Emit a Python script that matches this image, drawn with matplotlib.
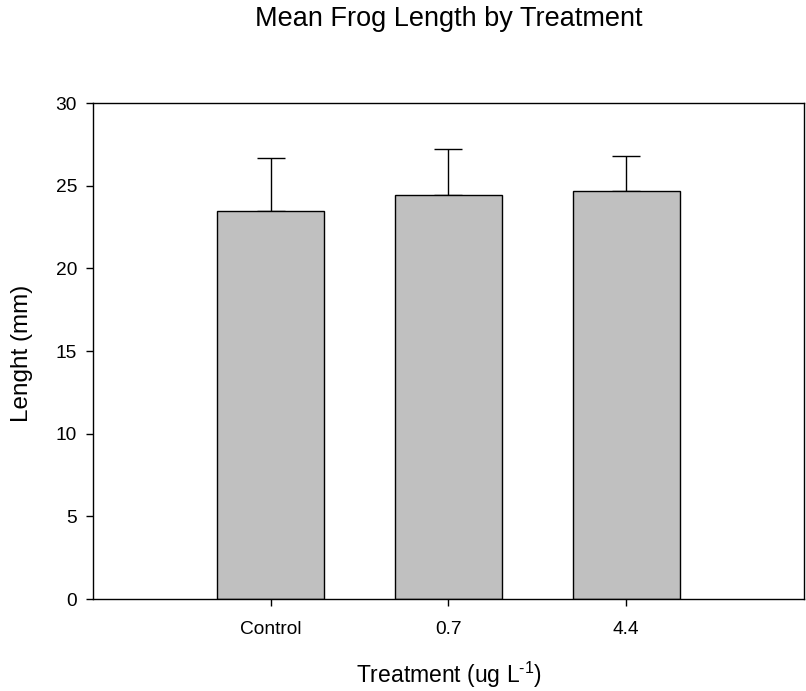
import numpy as np
import matplotlib
matplotlib.use('Agg')
from matplotlib import pyplot as plt

plt.rcParams['font.family'] = ['Liberation Sans', 'DejaVu Sans']
plt.rcParams['mathtext.default'] = 'regular'

treatments = ['Control', '0.7', '4.4']
mean_length = [23.45, 24.45, 24.7]
length_err = [3.25, 2.75, 2.1]

fig = plt.figure(figsize=(8.06, 6.91), dpi=100)
ax = fig.add_axes([0.1154, 0.1331, 0.8821, 0.7178])

x = np.arange(1, len(treatments) + 1)
ax.bar(x, mean_length, width=0.6, color='#c0c0c0', edgecolor='black', linewidth=1.0, zorder=2)
# only the upper half of the error bar is drawn
ax.errorbar(x, mean_length, yerr=[np.zeros(len(x)), length_err], fmt='none',
            ecolor='black', elinewidth=1.0, capsize=10, capthick=1.0, zorder=1)

ax.set_xlim(0, 4)
ax.set_ylim(0, 30)
ax.set_xticks(x)
ax.set_xticklabels(treatments)
ax.set_yticks(np.arange(0, 31, 5))
ax.tick_params(direction='out', length=5, width=1.0, labelsize=13.8)
ax.tick_params(axis='x', pad=10.5)
ax.tick_params(axis='y', pad=6.5)
for sp in ax.spines.values():
    sp.set_linewidth(1.0)

ax.set_ylabel('Lenght (mm)', fontsize=17.5)
ax.yaxis.set_label_coords(-0.084, 0.495)
ax.set_xlabel('Treatment (ug L$^{\u2010 1}$)', fontsize=16.5, labelpad=16)
fig.suptitle('Mean Frog Length by Treatment', fontsize=19.5, x=0.5565, y=0.992, va='top')

fig.savefig('out.png', dpi=100)
